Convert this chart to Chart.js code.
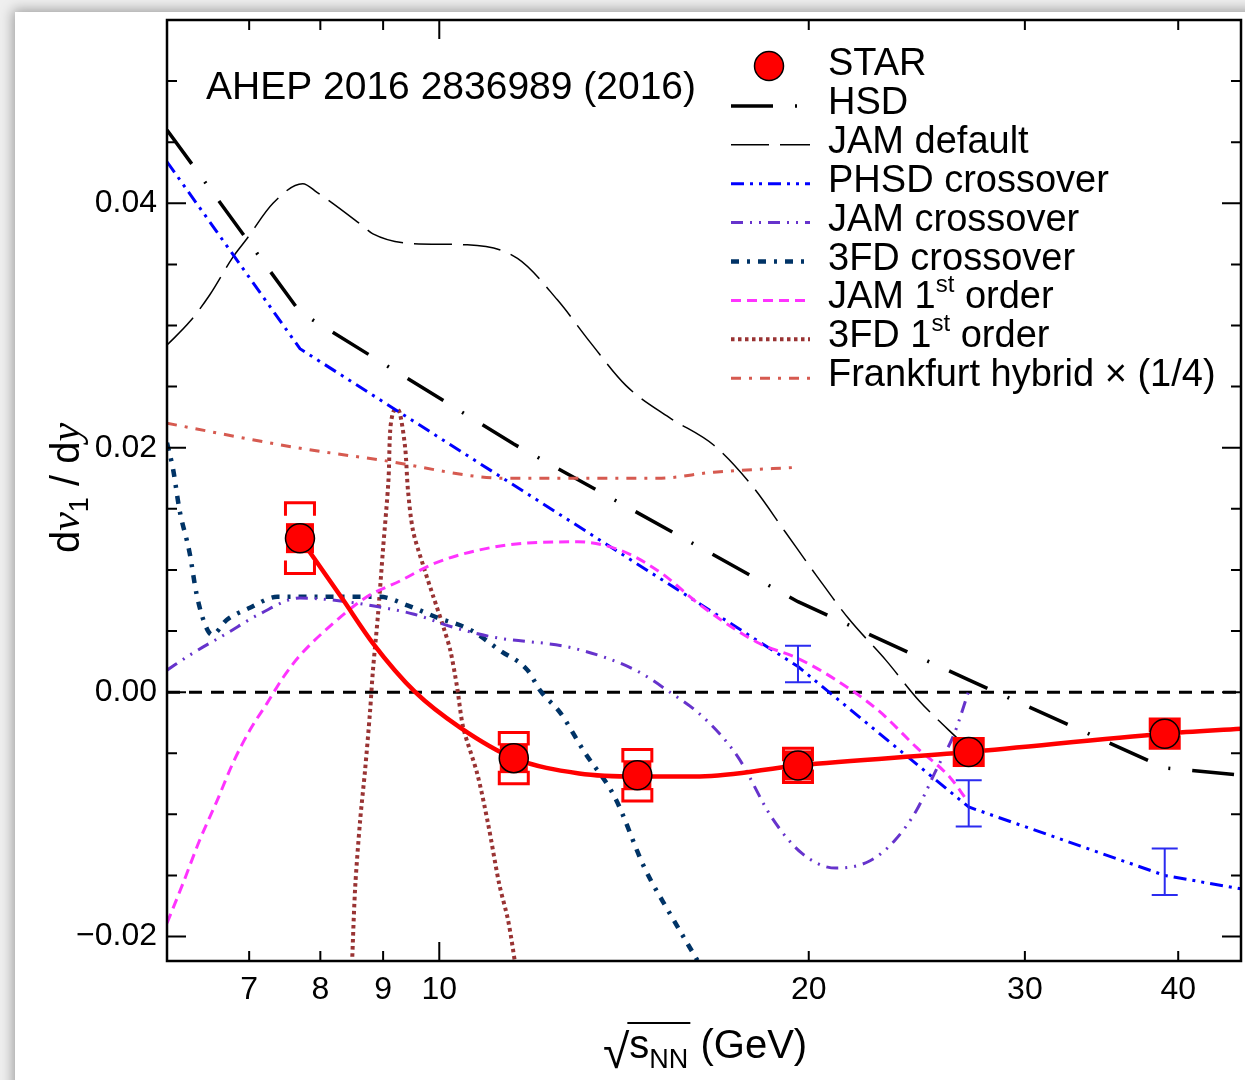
<!DOCTYPE html>
<html>
<head>
<meta charset="utf-8">
<title>dv1/dy vs sqrt(sNN)</title>
<script src="https://cdn.jsdelivr.net/npm/chart.js@4.4.1/dist/chart.umd.min.js"></script>
<style>
  body { margin: 0; width: 1245px; height: 1080px; overflow: hidden; position: relative; background: #efefef; }
  #card { position: absolute; left: 15px; top: 12px; width: 1300px; height: 1200px; background: #fff;
          box-shadow: 0 0 12px 2px rgba(0,0,0,0.35); }
  #wrap { position: absolute; left: 0; top: 0; width: 1245px; height: 1080px; }
</style>
</head>
<body>
<div id="card"></div>
<div id="wrap"><canvas id="chart" width="1245" height="1080"></canvas></div>
<script>
// axis ranges and ticks
const xMin = 6, xMax = 45;
const yMin = -0.022, yMax = 0.055;
const xTickValues = [7, 8, 9, 10, 20, 30, 40];
const xMajorTicks = [10];
const yLabelValues = [-0.02, 0, 0.02, 0.04];

// STAR data
const starEnergy = [7.7, 11.5, 14.5, 19.6, 27, 39];
const starSlope = [0.0126, -0.0054, -0.0068, -0.0060, -0.0049, -0.0034];
const starSys = [0.0029, 0.0021, 0.0021, 0.0014, 0.0011, 0.0012];

// smooth fit through STAR points
const fitEnergy = [7.7, 8.33, 8.83, 9.56, 10.4, 11.5, 13.0, 14.5, 16.3, 19.6, 27, 39, 45];
const fitSlope = [0.0126, 0.0077, 0.0040, 0.0000, -0.0029, -0.0054, -0.00665, -0.0069, -0.0069, -0.0060, -0.0049, -0.0034, -0.0030];

// PHSD error bars
const phsdBarEnergy = [19.6, 27, 39];
const phsdBarSlope = [0.0023, -0.0091, -0.0147];
const phsdBarErr = [0.0015, 0.0019, 0.0019];

// model curves
const hsdEnergy = [6, 7.7, 11.5, 19.6, 27, 39, 45];
const hsdSlope = [0.0460, 0.0311, 0.0203, 0.0074, 0.0010, -0.0062, -0.0068];

const jamDefEnergy = [6.0, 6.26, 6.5, 6.79, 6.97, 7.32, 7.74, 7.95, 8.65, 8.83, 9.52, 10.54, 11.58, 12.48, 13.28, 14.19, 15.38, 16.74, 18.01, 19.14, 20.27, 21.56, 23.12, 24.6, 26.7];
const jamDefSlope = [0.0284, 0.0303, 0.0325, 0.0356, 0.0371, 0.0400, 0.0416, 0.0409, 0.0382, 0.0375, 0.0367, 0.0366, 0.0355, 0.0321, 0.0286, 0.0251, 0.0225, 0.0202, 0.0168, 0.0131, 0.0096, 0.0060, 0.0026, -0.0007, -0.0042];

const phsdEnergy = [6, 7.7, 19.6, 27, 39, 45];
const phsdSlope = [0.0434, 0.0281, 0.0021, -0.0094, -0.0150, -0.0161];

const jamCrossEnergy = [6.0, 6.3, 6.71, 7.14, 7.7, 8.25, 8.9, 9.52, 10.27, 11.07, 12.86, 14.45, 15.41, 16.43, 17.51, 18.67, 19.75, 21.05, 22.44, 23.52, 24.47, 25.45, 26.28, 27.0];
const jamCrossSlope = [0.0018, 0.0032, 0.0048, 0.0064, 0.0077, 0.0075, 0.0070, 0.0064, 0.0053, 0.0045, 0.0036, 0.0018, 0.0000, -0.0021, -0.0053, -0.0103, -0.0132, -0.0144, -0.0138, -0.0121, -0.0097, -0.0062, -0.0034, 0.0001];

const fdCrossEnergy = [6.0, 6.07, 6.14, 6.26, 6.34, 6.44, 6.53, 6.71, 7.01, 7.38, 7.74, 8.57, 8.95, 9.42, 9.96, 10.6, 11.21, 11.8, 12.09, 12.55, 13.13, 13.9, 14.7, 15.41, 16.24];
const fdCrossSlope = [0.0204, 0.0182, 0.0150, 0.0114, 0.0081, 0.0056, 0.0047, 0.0059, 0.0069, 0.0078, 0.0078, 0.0078, 0.0078, 0.0071, 0.0061, 0.0051, 0.0034, 0.0018, 0.0001, -0.0017, -0.0049, -0.0086, -0.0144, -0.0181, -0.0220];

const jam1stEnergy = [6.0, 6.18, 6.38, 6.59, 6.79, 7.01, 7.24, 7.46, 7.7, 8.19, 8.73, 9.29, 9.89, 10.74, 11.8, 12.96, 14.05, 15.14, 16.33, 18.22, 19.56, 21.05, 22.79, 24.47, 26.08, 26.93];
const jam1stSlope = [-0.0189, -0.0157, -0.0121, -0.0089, -0.0058, -0.0031, -0.0009, 0.0012, 0.0030, 0.0056, 0.0078, 0.0091, 0.0105, 0.0116, 0.0122, 0.0123, 0.0116, 0.0098, 0.0071, 0.0040, 0.0028, 0.0010, -0.0015, -0.0045, -0.0070, -0.0089];

// this one folds back on itself, so it is kept in path order
const fd1stEnergy = [8.49, 8.54, 8.62, 8.70, 8.78, 8.83, 8.915, 9.0, 9.09, 9.12, 9.17, 9.24, 9.29, 9.38, 9.43, 9.52, 9.70, 9.89, 10.08, 10.21, 10.34, 10.46, 10.74, 10.96, 11.19, 11.38, 11.53];
const fd1stSlope = [-0.0222, -0.0160, -0.0105, -0.0064, -0.0017, 0.0018, 0.0064, 0.0118, 0.0173, 0.0214, 0.0229, 0.0232, 0.0228, 0.0200, 0.0165, 0.0132, 0.0104, 0.0078, 0.0053, 0.0034, 0.0004, -0.0029, -0.0067, -0.0108, -0.0157, -0.0187, -0.0222];

const frankEnergy = [6.0, 7.66, 8.95, 11.36, 12.62, 15.07, 16.74, 19.6];
const frankSlope = [0.0220, 0.0200, 0.0190, 0.0175, 0.0175, 0.0175, 0.0180, 0.0184];

const FONT = "'Liberation Sans', Arial, Helvetica, sans-serif";
Chart.defaults.font.family = FONT;

function pts(xs, ys) {
    return xs.map((x, i) => ({ x: x, y: ys[i] }));
}

function curve(label, xs, ys, color, width, dash, order, smooth) {
    return {
        label: label,
        data: pts(xs, ys),
        borderColor: color,
        borderWidth: width,
        borderDash: dash,
        pointRadius: 0,
        fill: false,
        order: order,
        tension: smooth === 'tension' ? 0.3 : 0,
        cubicInterpolationMode: smooth === 'monotone' ? 'monotone' : 'default'
    };
}

const datasets = [
    {
        label: 'STAR',
        data: pts(starEnergy, starSlope),
        showLine: false,
        pointRadius: 14.5,
        pointBackgroundColor: '#ff0000',
        pointBorderColor: '#000000',
        pointBorderWidth: 1.5,
        order: 0
    },
    curve('STAR fit', fitEnergy, fitSlope, '#ff0000', 4.5, [], 1, 'monotone'),
    curve('HSD', hsdEnergy, hsdSlope, '#000000', 3.5, [42, 22, 2, 22], 5, 'none'),
    curve('JAM default', jamDefEnergy, jamDefSlope, '#000000', 1.5, [38, 11], 9, 'monotone'),
    curve('PHSD crossover', phsdEnergy, phsdSlope, '#0000ff', 3, [13, 6, 3, 6, 3, 6], 4, 'none'),
    curve('JAM crossover', jamCrossEnergy, jamCrossSlope, '#6633cc', 3, [12, 7, 2, 7, 2, 7], 6, 'monotone'),
    curve('3FD crossover', fdCrossEnergy, fdCrossSlope, '#003366', 4.5, [8, 8, 3, 8], 7, 'monotone'),
    curve('JAM 1st order', jam1stEnergy, jam1stSlope, '#ff33ff', 3, [10, 6], 3, 'monotone'),
    curve('3FD 1st order', fd1stEnergy, fd1stSlope, '#993333', 4, [3.5, 3.5], 8, 'tension'),
    curve('Frankfurt hybrid \u00d7 (1/4)', frankEnergy, frankSlope, '#d65a50', 3, [10, 8, 3, 8], 2, 'monotone')
];

const legendOrder = ['STAR', 'HSD', 'JAM default', 'PHSD crossover', 'JAM crossover', '3FD crossover',
    'JAM 1st order', '3FD 1st order', 'Frankfurt hybrid \u00d7 (1/4)'];

// labels with a superscript part
const legendParts = {
    'JAM 1st order': [['JAM 1', 0], ['st', 1], [' order', 0]],
    '3FD 1st order': [['3FD 1', 0], ['st', 1], [' order', 0]]
};

// dashed line at zero, under the curves
const zeroLine = {
    id: 'zeroLine',
    beforeDatasetsDraw(chart) {
        const { ctx, chartArea: a, scales: { y } } = chart;
        const py = y.getPixelForValue(0);
        ctx.save();
        ctx.strokeStyle = '#000';
        ctx.lineWidth = 3;
        ctx.setLineDash([13, 9]);
        ctx.beginPath();
        ctx.moveTo(a.left, py);
        ctx.lineTo(a.right, py);
        ctx.stroke();
        ctx.restore();
    }
};

// systematic brackets for STAR and PHSD error bars, drawn just before the STAR markers
const errorBoxes = {
    id: 'errorBoxes',
    beforeDatasetDraw(chart, args) {
        if (args.index !== 0) return;
        const { ctx, scales: { x, y } } = chart;
        ctx.save();
        ctx.setLineDash([]);

        // blue bars
        ctx.strokeStyle = '#2b2bf0';
        ctx.lineWidth = 2;
        phsdBarEnergy.forEach((e, i) => {
            const px = x.getPixelForValue(e);
            const t = y.getPixelForValue(phsdBarSlope[i] + phsdBarErr[i]);
            const b = y.getPixelForValue(phsdBarSlope[i] - phsdBarErr[i]);
            ctx.beginPath();
            ctx.moveTo(px, t); ctx.lineTo(px, b);
            ctx.moveTo(px - 13, t); ctx.lineTo(px + 13, t);
            ctx.moveTo(px - 13, b); ctx.lineTo(px + 13, b);
            ctx.stroke();
        });

        // red brackets and squares
        ctx.strokeStyle = '#ff0000';
        ctx.fillStyle = '#ff0000';
        ctx.lineWidth = 3;
        starEnergy.forEach((e, i) => {
            const px = x.getPixelForValue(e);
            const cy = y.getPixelForValue(starSlope[i]);
            const t = y.getPixelForValue(starSlope[i] + starSys[i]);
            const b = y.getPixelForValue(starSlope[i] - starSys[i]);
            const hw = 14.5, leg = 13;
            ctx.beginPath();
            ctx.moveTo(px - hw, t + leg); ctx.lineTo(px - hw, t); ctx.lineTo(px + hw, t); ctx.lineTo(px + hw, t + leg);
            ctx.moveTo(px - hw, b - leg); ctx.lineTo(px - hw, b); ctx.lineTo(px + hw, b); ctx.lineTo(px + hw, b - leg);
            ctx.stroke();
            ctx.fillRect(px - 14, cy - 15, 28, 30);
        });
        ctx.restore();
    }
};

// frame with inward ticks on all four sides
const frame = {
    id: 'frame',
    afterDatasetsDraw(chart) {
        const { ctx, chartArea: a, scales: { x, y } } = chart;
        ctx.save();
        ctx.setLineDash([]);
        ctx.strokeStyle = '#000';
        ctx.lineWidth = 2.5;
        ctx.strokeRect(a.left, a.top, a.right - a.left, a.bottom - a.top);
        ctx.lineWidth = 2;
        ctx.beginPath();
        xTickValues.forEach(v => {
            const px = x.getPixelForValue(v);
            const len = xMajorTicks.includes(v) ? 19 : 10;
            ctx.moveTo(px, a.bottom); ctx.lineTo(px, a.bottom - len);
            ctx.moveTo(px, a.top); ctx.lineTo(px, a.top + len);
        });
        for (let k = -4; k * 0.005 < yMax; k++) {
            const py = y.getPixelForValue(k * 0.005);
            const len = k % 4 === 0 ? 19 : 10;
            ctx.moveTo(a.left, py); ctx.lineTo(a.left + len, py);
            ctx.moveTo(a.right, py); ctx.lineTo(a.right - len, py);
        }
        ctx.stroke();
        ctx.restore();
    }
};

// legend, annotation and axis titles
const texts = {
    id: 'texts',
    afterDraw(chart) {
        const ctx = chart.ctx;
        ctx.save();
        ctx.fillStyle = '#000';
        ctx.textBaseline = 'alphabetic';

        ctx.font = '39px ' + FONT;
        ctx.fillText('AHEP 2016 2836989 (2016)', 206, 99);

        const rowY0 = 62, rowStep = 38.9;
        legendOrder.forEach((label, i) => {
            const ds = chart.data.datasets.find(d => d.label === label);
            const cy = rowY0 + i * rowStep;
            if (label === 'STAR') {
                ctx.beginPath();
                ctx.arc(769, cy + 4, 14.5, 0, Math.PI * 2);
                ctx.fillStyle = '#ff0000';
                ctx.fill();
                ctx.lineWidth = 1.5;
                ctx.strokeStyle = '#000';
                ctx.stroke();
            } else {
                ctx.beginPath();
                ctx.setLineDash(ds.borderDash);
                ctx.strokeStyle = ds.borderColor;
                ctx.lineWidth = ds.borderWidth;
                ctx.moveTo(731, cy + 5);
                ctx.lineTo(810, cy + 5);
                ctx.stroke();
                ctx.setLineDash([]);
            }
            ctx.fillStyle = '#000';
            let tx = 828;
            const parts = legendParts[label] || [[label, 0]];
            parts.forEach(p => {
                ctx.font = (p[1] ? '24px ' : '38px ') + FONT;
                ctx.fillText(p[0], tx, cy + 13 - (p[1] ? 16 : 0));
                tx += ctx.measureText(p[0]).width;
            });
        });

        // y title: dv1 / dy
        const yParts = [
            ['d', '40px ' + FONT, 0],
            ['v', 'italic 42px "Liberation Serif", serif', 0],
            ['1', '27px ' + FONT, 9],
            [' / d', '40px ' + FONT, 0],
            ['y', 'italic 42px "Liberation Serif", serif', 0]
        ];
        let total = 0;
        yParts.forEach(p => { ctx.font = p[1]; total += ctx.measureText(p[0]).width; });
        ctx.translate(79, 488);
        ctx.rotate(-Math.PI / 2);
        let ox = -total / 2;
        yParts.forEach(p => {
            ctx.font = p[1];
            ctx.fillText(p[0], ox, p[2]);
            ox += ctx.measureText(p[0]).width;
        });
        ctx.setTransform(1, 0, 0, 1, 0, 0);

        // x title: sqrt(s_NN) (GeV)
        ctx.font = '48px ' + FONT;
        ctx.fillText('\u221a', 603, 1068);
        let xx = 603 + ctx.measureText('\u221a').width;
        ctx.font = '40px ' + FONT;
        ctx.fillText('s', xx, 1058);
        const sW = ctx.measureText('s').width;
        ctx.font = '27px ' + FONT;
        ctx.fillText('NN', xx + sW, 1068);
        const nnW = ctx.measureText('NN').width;
        ctx.lineWidth = 2;
        ctx.strokeStyle = '#000';
        ctx.beginPath();
        ctx.moveTo(xx - 2, 1023);
        ctx.lineTo(xx + sW + nnW + 2, 1023);
        ctx.stroke();
        ctx.font = '40px ' + FONT;
        ctx.fillText(' (GeV)', xx + sW + nnW + 1, 1058);
        ctx.restore();
    }
};

new Chart(document.getElementById('chart'), {
    type: 'line',
    data: { datasets: datasets },
    options: {
        responsive: false,
        animation: false,
        layout: { autoPadding: false, padding: { left: 0, right: 4, top: 20, bottom: 0 } },
        plugins: {
            legend: { display: false },
            tooltip: { enabled: false }
        },
        scales: {
            x: {
                type: 'logarithmic',
                min: xMin,
                max: xMax,
                afterBuildTicks: s => { s.ticks = xTickValues.map(v => ({ value: v })); },
                afterFit: s => { s.height = 119; s.paddingLeft = 0; s.paddingRight = 0; },
                grid: { display: false, drawTicks: false },
                border: { display: false },
                ticks: {
                    color: '#000',
                    font: { size: 32 },
                    padding: 10,
                    autoSkip: false,
                    maxRotation: 0,
                    callback: v => String(v)
                }
            },
            y: {
                type: 'linear',
                min: yMin,
                max: yMax,
                afterBuildTicks: s => { s.ticks = yLabelValues.map(v => ({ value: v })); },
                afterFit: s => { s.width = 167; s.paddingTop = 0; s.paddingBottom = 0; },
                grid: { display: false, drawTicks: false },
                border: { display: false },
                ticks: {
                    color: '#000',
                    font: { size: 32 },
                    padding: 10,
                    callback: v => v === 0 ? '0.00' : (v < 0 ? '\u2212' + Math.abs(v).toFixed(2) : v.toFixed(2))
                }
            }
        }
    },
    plugins: [zeroLine, errorBoxes, frame, texts]
});
</script>
</body>
</html>
